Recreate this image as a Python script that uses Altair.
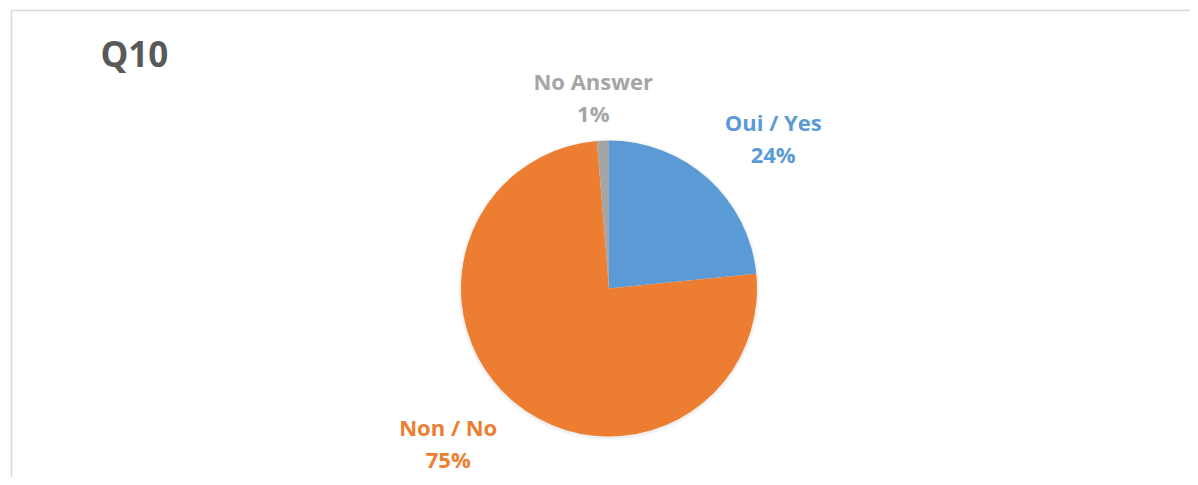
import altair as alt
import pandas as pd

categories = ["Oui / Yes", "Non / No", "No Answer"]
values = [23.4, 75.3, 1.3]
pct_labels = ["24%", "75%", "1%"]
colors = ["#5B9BD5", "#ED7D31", "#A5A5A5"]
title_text = ["Q10"]

df = pd.DataFrame({
    "category": categories,
    "value": values,
    "order": list(range(len(categories))),
    "label": [f"{c}\n{p}" for c, p in zip(categories, pct_labels)],
})

CX, CY, R = 601, 280.5, 148
FONT = "Open Sans"

theta_scale = alt.Scale(domain=[0, 100])
color_scale = alt.Scale(domain=categories, range=colors)

base = alt.Chart(df)

# soft shadow
shadow = base.mark_arc(radius=R + 3, color="#000000", opacity=0.025).encode(
    theta=alt.Theta("value:Q", stack=True, scale=theta_scale),
    order=alt.Order("order:Q"),
    x=alt.value(CX), y=alt.value(CY + 1),
)
shadow2 = base.mark_arc(radius=R + 1.5, color="#000000", opacity=0.04).encode(
    theta=alt.Theta("value:Q", stack=True, scale=theta_scale),
    order=alt.Order("order:Q"),
    x=alt.value(CX), y=alt.value(CY + 1),
)

pie = base.mark_arc(radius=R, stroke=None).encode(
    theta=alt.Theta("value:Q", stack=True, scale=theta_scale),
    color=alt.Color("category:N", scale=color_scale, legend=None),
    order=alt.Order("order:Q"),
    x=alt.value(CX), y=alt.value(CY),
)

label_base = base.transform_window(
    cum="sum(value)", sort=[alt.SortField("order")]
).transform_calculate(mid="datum.cum - datum.value / 2")

# per-label radius and nudge (style)
label_style = {
    "Oui / Yes": dict(radius=215, dx=20, dy=-5),
    "Non / No": dict(radius=220, dx=-20, dy=-29),
    "No Answer": dict(radius=189, dx=-8, dy=-17),
}

label_layers = []
for cat in categories:
    st = label_style[cat]
    label_layers.append(
        label_base.transform_filter(alt.datum.category == cat).mark_text(
            font=FONT, fontSize=22, fontWeight="bold", lineBreak="\n",
            lineHeight=32, align="center", baseline="middle",
            radius=st["radius"], dx=st["dx"], dy=st["dy"],
        ).encode(
            theta=alt.Theta("mid:Q", stack=False, scale=theta_scale),
            text="label:N",
            color=alt.Color("category:N", scale=color_scale, legend=None),
            x=alt.value(CX), y=alt.value(CY),
        )
    )

title_df = pd.DataFrame({"t": title_text})
title = alt.Chart(title_df).mark_text(
    font=FONT, fontSize=35, fontWeight="bold", color="#595959",
    align="left", baseline="alphabetic",
).encode(text="t:N", x=alt.value(92.5), y=alt.value(58.5))

frame_top = alt.Chart(title_df).mark_rule(color="#D9D9D9", strokeWidth=1.5).encode(
    x=alt.value(3), x2=alt.value(1190), y=alt.value(2.5)
)
frame_left = alt.Chart(title_df).mark_rule(color="#D9D9D9", strokeWidth=1.5).encode(
    x=alt.value(3.5), y=alt.value(2), y2=alt.value(469)
)

chart = alt.layer(
    frame_top, frame_left, shadow, shadow2, pie, *label_layers, title
).properties(
    width=1182, height=469, padding=0,
    autosize=alt.AutoSizeParams(type="none"),
).configure_view(stroke=None)

chart.save("out.html", embed_options={"renderer": "svg", "actions": False})
